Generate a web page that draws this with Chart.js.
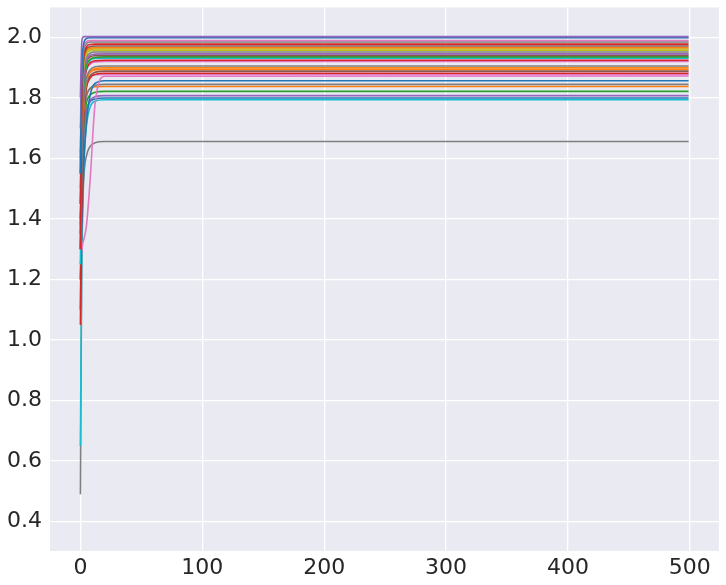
<!DOCTYPE html>
<html>
<head>
<meta charset="utf-8">
<script src="https://cdn.jsdelivr.net/npm/chart.js@4.4.1/dist/chart.umd.min.js"></script>
<style>
  html, body { margin: 0; padding: 0; background: #ffffff; }
  #wrap { width: 726px; height: 585px; position: relative; }
</style>
</head>
<body>
<div id="wrap"><canvas id="chart" width="726" height="585"></canvas></div>
<script>
const steps = [0, 1, 2, 3, 5, 8, 12, 20, 499];

// value of each run at those steps
const runValues = [
    [1.80, 1.98, 2.000, 2.003, 2.003, 2.003, 2.003, 2.003, 2.003],
    [1.55, 1.88, 1.960, 1.985, 1.997, 1.999, 1.999, 1.999, 1.999],
    [1.70, 1.90, 1.955, 1.975, 1.987, 1.990, 1.990, 1.990, 1.990],
    [1.60, 1.85, 1.930, 1.962, 1.980, 1.985, 1.985, 1.985, 1.985],
    [1.30, 1.75, 1.900, 1.945, 1.970, 1.977, 1.978, 1.978, 1.978],
    [1.45, 1.78, 1.890, 1.935, 1.962, 1.970, 1.972, 1.972, 1.972],
    [1.58, 1.83, 1.910, 1.940, 1.958, 1.965, 1.966, 1.966, 1.966],
    [1.65, 1.82, 1.900, 1.932, 1.953, 1.960, 1.962, 1.962, 1.962],
    [1.50, 1.76, 1.870, 1.915, 1.945, 1.956, 1.958, 1.958, 1.958],
    [1.40, 1.70, 1.840, 1.900, 1.935, 1.948, 1.952, 1.952, 1.952],
    [1.35, 1.64, 1.800, 1.880, 1.925, 1.941, 1.945, 1.946, 1.946],
    [1.55, 1.74, 1.840, 1.890, 1.922, 1.936, 1.940, 1.941, 1.941],
    [1.45, 1.66, 1.790, 1.860, 1.908, 1.928, 1.934, 1.936, 1.936],
    [1.25, 1.58, 1.760, 1.850, 1.905, 1.925, 1.931, 1.932, 1.932],
    [1.10, 1.52, 1.740, 1.840, 1.895, 1.917, 1.923, 1.925, 1.925],
    [1.50, 1.68, 1.790, 1.850, 1.893, 1.912, 1.919, 1.921, 1.921],
    [1.35, 1.57, 1.720, 1.800, 1.865, 1.893, 1.903, 1.906, 1.906],
    [1.45, 1.60, 1.720, 1.790, 1.855, 1.885, 1.897, 1.900, 1.900],
    [1.62, 1.72, 1.790, 1.830, 1.868, 1.886, 1.893, 1.895, 1.895],
    [1.30, 1.50, 1.660, 1.760, 1.840, 1.873, 1.885, 1.889, 1.889],
    [1.05, 1.45, 1.660, 1.760, 1.835, 1.866, 1.878, 1.882, 1.882],
    [1.70, 1.76, 1.810, 1.840, 1.863, 1.873, 1.877, 1.878, 1.878],
    [1.25, 1.29, 1.320, 1.335, 1.380, 1.530, 1.780, 1.872, 1.873],
    [1.20, 1.36, 1.500, 1.600, 1.720, 1.810, 1.848, 1.857, 1.857],
    [1.40, 1.57, 1.680, 1.750, 1.805, 1.832, 1.842, 1.845, 1.845],
    [1.55, 1.66, 1.740, 1.785, 1.815, 1.831, 1.837, 1.838, 1.838],
    [1.30, 1.52, 1.640, 1.720, 1.785, 1.810, 1.819, 1.822, 1.822],
    [1.20, 1.45, 1.590, 1.680, 1.755, 1.792, 1.804, 1.808, 1.808],
    [1.38, 1.53, 1.630, 1.700, 1.760, 1.788, 1.797, 1.800, 1.800],
    [0.65, 1.25, 1.480, 1.600, 1.710, 1.770, 1.789, 1.794, 1.794],
    [0.49, 1.20, 1.450, 1.550, 1.610, 1.640, 1.652, 1.656, 1.656]
];

const runColors = [
    '#9467bd', '#1f77b4', '#e377c2', '#7f7f7f', '#d62728', '#8c564b', '#ff7f0e', '#bcbd22',
    '#bcbd22', '#7f7f7f', '#9467bd', '#8c564b', '#2ca02c', '#17becf', '#d62728', '#e377c2',
    '#7f7f7f', '#ff7f0e', '#ff7f0e', '#8c564b', '#d62728', '#e377c2', '#e377c2', '#1f77b4',
    '#7f7f7f', '#ff7f0e', '#2ca02c', '#9467bd', '#1f77b4', '#17becf', '#7f7f7f'
];

const xTicks = [0, 100, 200, 300, 400, 500];
const yTicks = [0.4, 0.6, 0.8, 1.0, 1.2, 1.4, 1.6, 1.8, 2.0];

const datasets = runValues.map((vals, i) => ({
    data: vals.map((v, j) => ({ x: steps[j], y: v })),
    borderColor: runColors[i],
    backgroundColor: runColors[i],
    borderWidth: 1.6,
    pointRadius: 0,
    cubicInterpolationMode: 'monotone',
    fill: false
}));

// seaborn darkgrid background
const plotBackground = {
    id: 'plotBackground',
    beforeDraw(chart) {
        const { ctx, chartArea } = chart;
        ctx.save();
        ctx.fillStyle = '#eaeaf2';
        ctx.fillRect(chartArea.left, chartArea.top, chartArea.right - chartArea.left, chartArea.bottom - chartArea.top);
        ctx.restore();
    }
};

const tickFont = { family: 'DejaVu Sans', size: 22 };

new Chart(document.getElementById('chart'), {
    type: 'line',
    data: { datasets },
    plugins: [plotBackground],
    options: {
        responsive: false,
        animation: false,
        layout: { padding: { top: 7.5, right: 7, left: 0, bottom: 0 } },
        plugins: {
            legend: { display: false },
            tooltip: { enabled: false }
        },
        scales: {
            x: {
                type: 'linear',
                min: -24.95,
                max: 523.95,
                afterBuildTicks: (scale) => { scale.ticks = xTicks.map(v => ({ value: v })); },
                afterFit: (scale) => {
                    scale.height = 34;
                    scale.paddingLeft = 0;
                    scale.paddingRight = 0;
                },
                border: { display: false },
                grid: { color: '#ffffff', lineWidth: 1.3, drawTicks: false },
                ticks: { font: tickFont, color: '#262626', padding: 4, maxRotation: 0 }
            },
            y: {
                type: 'linear',
                min: 0.3025,
                max: 2.0992,
                afterBuildTicks: (scale) => { scale.ticks = yTicks.map(v => ({ value: v })); },
                afterFit: (scale) => {
                    scale.width = 50;
                    scale.paddingTop = 0;
                    scale.paddingBottom = 0;
                },
                border: { display: false },
                grid: { color: '#ffffff', lineWidth: 1.3, drawTicks: false },
                ticks: {
                    font: tickFont,
                    color: '#262626',
                    padding: 8,
                    callback: (v) => Number(v).toFixed(1)
                }
            }
        }
    }
});
</script>
</body>
</html>
